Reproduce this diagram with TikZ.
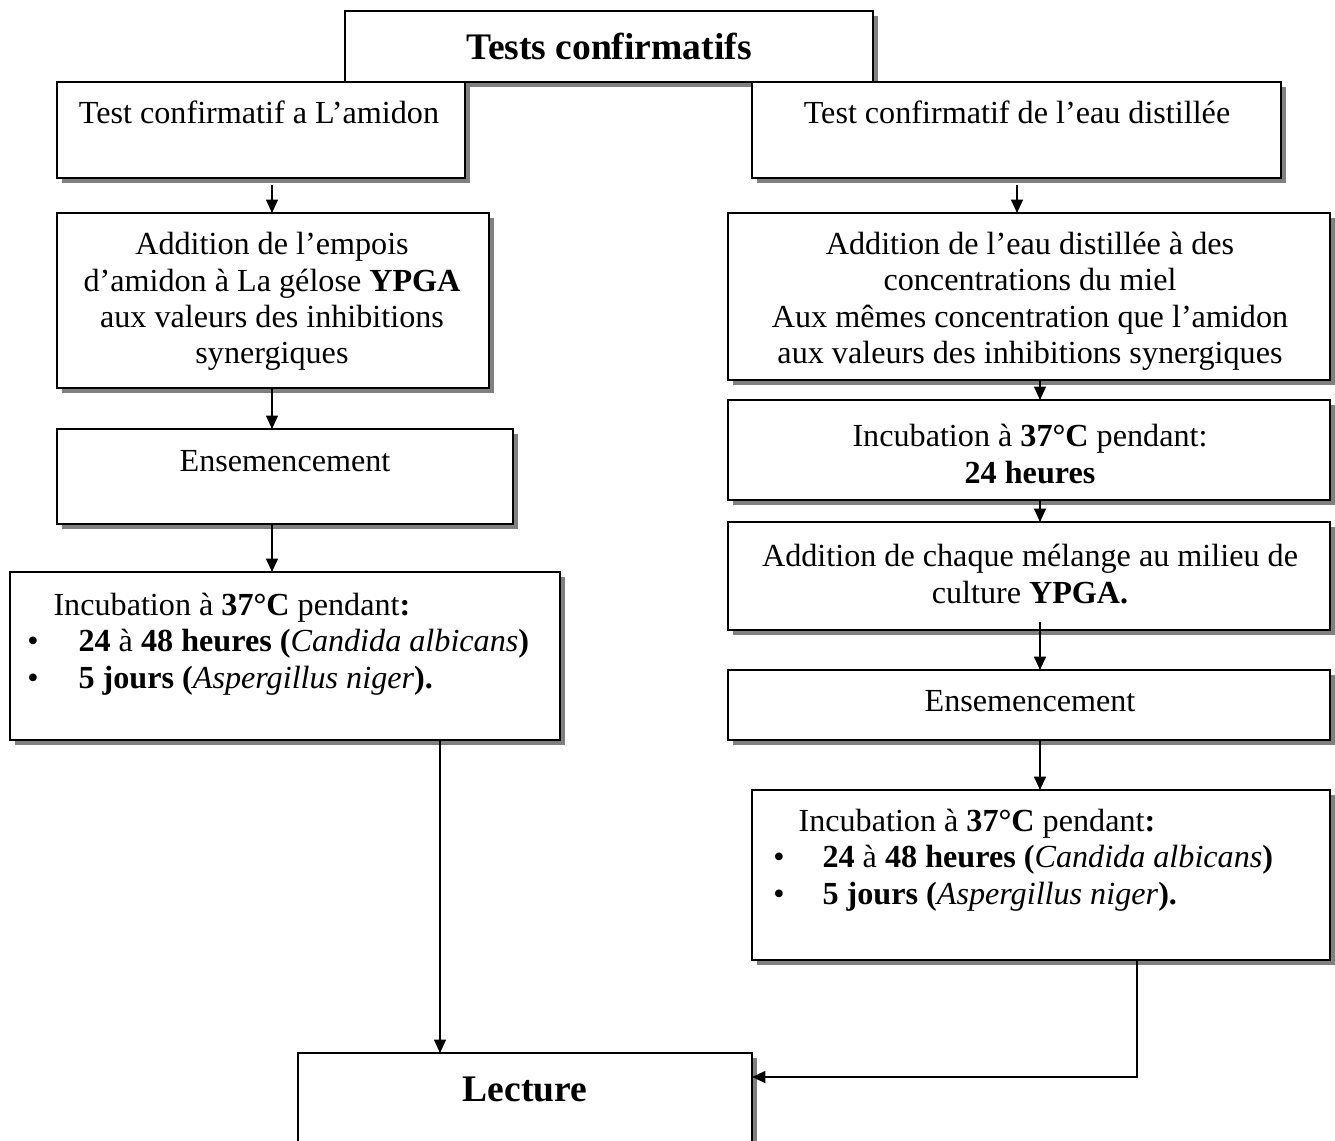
\documentclass[tikz,border=0pt]{standalone}
\usepackage{fontspec}
\setmainfont{Liberation Serif}
\usetikzlibrary{arrows.meta,shadows,calc}
\newcommand\mkbox[5]{\node[bx, minimum width={(#4-#2)*0.3731pt}, minimum height={(#5-#3)*0.3731pt}] (#1) at ({(#2+#4)/2},{(#3+#5)/2}) {};}
\begin{document}
\begin{tikzpicture}[x=0.3731pt,y=-0.3731pt,
 bx/.style={draw, line width=0.75pt, fill=white, inner sep=0pt, outer sep=0pt,
   drop shadow={shadow xshift=1.9pt, shadow yshift=-1.9pt, fill=black!50, opacity=1}},
 tx/.style={inner sep=0pt, anchor=base, font=\fontsize{12}{13.8}\selectfont},
 txl/.style={tx, anchor=base west},
 big/.style={inner sep=0pt, anchor=base, font=\fontsize{14}{16}\selectfont\bfseries},
 arr/.style={line width=0.75pt, -{Triangle[length=5pt,width=4.4pt]}},
 ln/.style={line width=0.75pt}]
\useasboundingbox (0,0) rectangle (1335,1140);
% boxes
\mkbox{T}{345}{11}{873}{82}
\mkbox{L1}{57}{82}{465}{178}
\mkbox{R1}{752}{82}{1281}{178}
\mkbox{L2}{57}{213}{489}{388}
\mkbox{L3}{57}{429}{513}{524}
\mkbox{L4}{10}{572}{560}{740}
\mkbox{R2}{728}{213}{1330}{380}
\mkbox{R3}{728}{400}{1330}{500}
\mkbox{R4}{728}{522}{1330}{630}
\mkbox{R5}{728}{670}{1330}{740}
\mkbox{R6}{752}{790}{1330}{960}
\mkbox{Lec}{298}{1053}{752}{1160}
% texts
\node[big] (tT) at (609,59) {Tests confirmatifs};
\node[tx] (tL1) at (259,123) {Test confirmatif a L’amidon};
\node[tx] (tR1) at (1017,123) {Test confirmatif de l’eau distillée};
\node[tx] (tL2a) at (272,254) {Addition de l’empois};
\node[tx] (tL2b) at (272,291) {d’amidon à La gélose \textbf{YPGA}};
\node[tx] (tL2c) at (272,327) {aux valeurs des inhibitions};
\node[tx] (tL2d) at (272,363) {synergiques};
\node[tx] (tL3) at (285,471) {Ensemencement};
\node[txl] (tL4a) at (53,615) {Incubation à \textbf{37°C} pendant\textbf{:}};
\node[tx] (bL4b) at (33,651) {•};
\node[txl] (tL4b) at (78,651) {\textbf{24} à \textbf{48 heures (}\textit{Candida albicans}\textbf{)}};
\node[tx] (bL4c) at (33,688) {•};
\node[txl] (tL4c) at (78,688) {\textbf{5 jours (}\textit{Aspergillus niger}\textbf{).}};
\node[tx] (tR2a) at (1030,254) {Addition de l’eau distillée à des};
\node[tx] (tR2b) at (1030,290) {concentrations du miel};
\node[tx] (tR2c) at (1030,327) {Aux mêmes concentration que l’amidon};
\node[tx] (tR2d) at (1030,363) {aux valeurs des inhibitions synergiques};
\node[tx] (tR3a) at (1030,446) {Incubation à \textbf{37°C} pendant:};
\node[tx] (tR3b) at (1030,483) {\textbf{24 heures}};
\node[tx] (tR4a) at (1030,566) {Addition de chaque mélange au milieu de};
\node[tx] (tR4b) at (1030,603) {culture \textbf{YPGA.}};
\node[tx] (tR5) at (1030,711) {Ensemencement};
\node[txl] (tR6a) at (798,831) {Incubation à \textbf{37°C} pendant\textbf{:}};
\node[tx] (bR6b) at (779,867) {•};
\node[txl] (tR6b) at (822,867) {\textbf{24} à \textbf{48 heures (}\textit{Candida albicans}\textbf{)}};
\node[tx] (bR6c) at (779,904) {•};
\node[txl] (tR6c) at (822,904) {\textbf{5 jours (}\textit{Aspergillus niger}\textbf{).}};
\node[big] (tLec) at (525,1101) {Lecture};
% connector columns
\coordinate (cL) at (272,0);
\coordinate (cR1) at (1017,0);
\coordinate (cR) at (1040,0);
\coordinate (cLL) at (440,0);
\coordinate (cRR) at (1137,1077);
% connectors
\draw[arr] ($(L1.south -| cL)+(0,7)$) -- (L2.north -| cL);
\draw[arr] (L2.south -| cL) -- (L3.north -| cL);
\draw[arr] (L3.south -| cL) -- (L4.north -| cL);
\draw[arr] ($(R1.south -| cR1)+(0,7)$) -- (R2.north -| cR1);
\draw[arr] (R2.south -| cR) -- (R3.north -| cR);
\draw[arr] (R3.south -| cR) -- (R4.north -| cR);
\draw[arr] ($(R4.south -| cR)+(0,-8)$) -- (R5.north -| cR);
\draw[arr] (R5.south -| cR) -- (R6.north -| cR);
\draw[arr] (L4.south -| cLL) -- (Lec.north -| cLL);
\draw[arr] (R6.south -| cRR) -- (cRR) -- (cRR -| Lec.east);
\end{tikzpicture}
\end{document}
